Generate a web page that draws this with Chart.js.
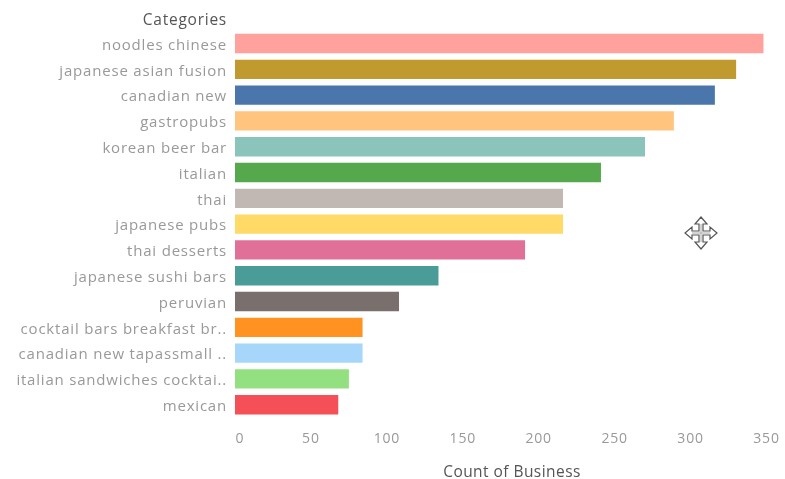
<!DOCTYPE html>
<html>
<head>
<meta charset="utf-8">
<style>
html, body { margin: 0; padding: 0; background: #fff; }
canvas { display: block; }
</style>
<script src="https://cdn.jsdelivr.net/npm/chart.js@4"></script>
</head>
<body>
<canvas id="chart" width="785" height="479"></canvas>
<script>
var categories = [
	"noodles chinese", "japanese asian fusion", "canadian new", "gastropubs",
	"korean beer bar", "italian", "thai", "japanese pubs", "thai desserts",
	"japanese sushi bars", "peruvian", "cocktail bars breakfast br..",
	"canadian new tapassmall ..", "italian sandwiches cocktai..", "mexican"
];
var counts = [348, 330, 316, 289, 270, 241, 216, 216, 191, 134, 108, 84, 84, 75, 68];
var barColors = [
	"#FFA19C", "#C09A2E", "#4A76AB", "#FFC57F", "#8AC4BA", "#55A84C", "#C1B8B3", "#FFDA66",
	"#E07098", "#499C98", "#79706E", "#FF9220", "#A6D7FA", "#93E081", "#F55057"
];
var FONT = "'Open Sans', sans-serif";

// header, axis title and the move cursor that sits on the screenshot
var extras = {
	id: 'extras',
	beforeDraw: function (chart) {
		chart.ctx.letterSpacing = "0.8px";
		// first tick label sits a bit right of its tick in the original
		var xItems = chart.scales.x.getLabelItems();
		if (xItems.length && !xItems[0].moved) {
			xItems[0].options.translation[0] += 5;
			xItems[0].moved = true;
		}
		chart.scales.y.getLabelItems().forEach(function (item) {
			if (!item.moved) {
				item.options.translation[1] += 2;
				item.moved = true;
			}
		});
	},
	afterDraw: function (chart) {
		var ctx = chart.ctx;
		ctx.save();
		ctx.font = "15.5px " + FONT;
		ctx.fillStyle = "#555";
		ctx.textBaseline = "middle";
		ctx.textAlign = "right";
		ctx.letterSpacing = "0.75px";
		ctx.fillText("Categories", 227, 20.5);
		ctx.textAlign = "center";
		ctx.letterSpacing = "0.45px";
		ctx.fillText("Count of Business", 512, 472.5);
		drawMoveCursor(ctx, 701, 233);
		ctx.restore();
	}
};

function drawMoveCursor(ctx, cx, cy) {
	var pts = [[-2, -9], [-6, -9], [0, -16], [6, -9], [2, -9], [2, -2], [9, -2], [9, -6], [16, 0],
		[9, 6], [9, 2], [2, 2], [2, 9], [6, 9], [0, 16], [-6, 9], [-2, 9], [-2, 2], [-9, 2],
		[-9, 6], [-16, 0], [-9, -6], [-9, -2], [-2, -2]];
	ctx.beginPath();
	pts.forEach(function (p, i) {
		if (i == 0) ctx.moveTo(cx + p[0], cy + p[1]);
		else ctx.lineTo(cx + p[0], cy + p[1]);
	});
	ctx.closePath();
	ctx.fillStyle = "#fff";
	ctx.fill();
	ctx.strokeStyle = "#555";
	ctx.lineWidth = 1.2;
	ctx.stroke();
	ctx.beginPath();
	ctx.moveTo(cx, cy - 9);
	ctx.lineTo(cx, cy + 9);
	ctx.moveTo(cx - 9, cy);
	ctx.lineTo(cx + 9, cy);
	ctx.strokeStyle = "#aaa";
	ctx.lineWidth = 1;
	ctx.stroke();
}

var ctxL = document.getElementById("chart").getContext("2d");
var myBarChart = new Chart(ctxL, {
	type: "bar",
	data: {
		labels: categories,
		datasets: [
			{
				label: "Count of Business",
				data: counts,
				backgroundColor: barColors,
				borderWidth: 0,
				categoryPercentage: 1,
				barPercentage: 0.75
			}
		]
	},
	options: {
		indexAxis: "y",
		responsive: false,
		animation: false,
		layout: { padding: { top: 30.6, right: 18.5, left: 0, bottom: 0 } },
		plugins: {
			legend: { display: false },
			tooltip: { enabled: false }
		},
		scales: {
			x: {
				min: 0,
				max: 350,
				grid: { display: false, drawTicks: false },
				border: { display: false },
				ticks: {
					stepSize: 50,
					maxRotation: 0,
					padding: 13,
					color: "#999",
					font: { family: FONT, size: 14 }
				},
				afterFit: function (scale) {
					scale.height = 61.4;
					scale.paddingLeft = 0;
					scale.paddingRight = 0;
				}
			},
			y: {
				grid: { display: false, drawTicks: false },
				border: { display: false },
				ticks: {
					padding: 8,
					autoSkip: false,
					color: "#999",
					font: { family: FONT, size: 15 }
				},
				afterFit: function (scale) { scale.width = 235; }
			}
		}
	},
	plugins: [extras]
});
</script>
</body>
</html>
